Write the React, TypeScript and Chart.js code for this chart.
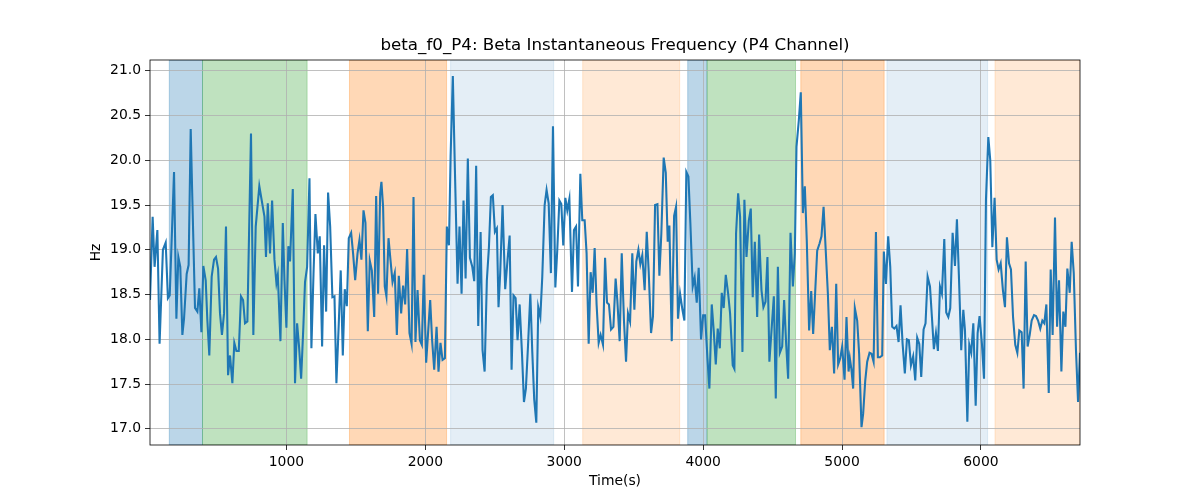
import React, { useEffect, useRef } from 'react';
import { Chart, registerables } from 'chart.js';

Chart.register(...registerables);

// [time (s), frequency (Hz)]
const samples: [number, number][] = [
  [18, 18.44], [37, 19.37], [51, 18.81], [71, 19.22], [87, 17.95], [111, 19.0], [131, 19.08], [147, 18.46], [160, 18.49],
  [191, 19.87], [208, 18.23], [222, 18.92], [236, 18.81], [251, 18.05], [263, 18.23], [282, 18.73], [296, 18.83],
  [311, 20.35], [323, 19.56], [342, 18.35], [359, 18.31], [373, 18.57], [388, 18.08], [402, 18.82], [419, 18.66],
  [431, 18.21], [445, 17.82], [462, 18.7], [479, 18.89], [493, 18.92], [508, 18.79], [522, 18.29], [536, 18.05],
  [551, 18.29], [565, 19.26], [580, 17.6], [594, 17.82], [611, 17.51], [625, 17.96], [640, 17.87], [657, 17.87],
  [673, 18.48], [688, 18.44], [702, 18.18], [719, 18.2], [745, 20.3], [762, 18.05], [779, 19.26], [805, 19.71],
  [842, 19.37], [853, 18.92], [866, 19.52], [882, 18.96], [897, 19.55], [914, 18.89], [928, 18.63], [938, 18.72],
  [957, 17.98], [974, 19.3], [986, 18.66], [1000, 18.13], [1014, 19.04], [1026, 18.87], [1046, 19.68], [1062, 17.51],
  [1077, 18.18], [1091, 17.92], [1106, 17.56], [1122, 18.14], [1134, 18.64], [1149, 18.81], [1166, 19.8], [1180, 17.9],
  [1195, 18.73], [1209, 19.4], [1226, 18.96], [1240, 19.15], [1257, 17.92], [1271, 19.05], [1286, 18.31], [1300, 19.64],
  [1315, 19.26], [1331, 18.47], [1346, 18.48], [1360, 17.51], [1377, 18.18], [1391, 18.77], [1406, 17.82], [1420, 18.56],
  [1435, 18.37], [1449, 19.13], [1466, 19.19], [1480, 18.96], [1495, 18.66], [1512, 18.96], [1526, 19.11], [1540, 18.89],
  [1555, 19.44], [1569, 19.3], [1586, 18.09], [1600, 18.88], [1615, 18.77], [1632, 18.25], [1646, 19.6], [1660, 18.51],
  [1675, 19.63],
  [1684, 19.76], [1696, 19.48], [1708, 18.59], [1720, 18.48], [1735, 19.13], [1749, 18.89], [1764, 18.64], [1780, 18.74],
  [1795, 18.05], [1809, 18.71], [1826, 18.29], [1840, 18.6], [1855, 18.39], [1869, 19.01], [1886, 18.07], [1901, 17.95],
  [1915, 19.59], [1929, 17.97], [1944, 18.55], [1961, 17.99], [1975, 17.94], [1989, 18.72], [2006, 17.74], [2021, 18.1],
  [2035, 18.44], [2049, 17.99], [2064, 17.66], [2081, 18.14], [2095, 17.64], [2109, 17.96], [2124, 17.77], [2141, 17.79],
  [2155, 19.26], [2170, 19.05], [2182, 20.04], [2198, 20.94], [2213, 19.89], [2232, 18.62], [2246, 19.26], [2261, 18.51],
  [2275, 19.55], [2290, 18.68], [2306, 20.02], [2321, 18.91], [2338, 18.81], [2352, 18.65], [2366, 19.94], [2381, 18.15],
  [2398, 19.2], [2412, 17.88], [2427, 17.64], [2443, 18.66], [2458, 19.03], [2472, 19.59], [2486, 19.61], [2501, 19.2],
  [2515, 19.24],
  [2527, 18.36], [2539, 18.74], [2556, 19.5], [2575, 18.56], [2592, 18.89], [2607, 19.16], [2621, 17.66], [2635, 18.49],
  [2650, 18.46], [2664, 17.99], [2679, 18.39], [2696, 17.84], [2710, 17.3], [2724, 17.45], [2739, 17.92], [2756, 18.51],
  [2770, 17.86], [2784, 17.33], [2799, 17.07], [2813, 18.36], [2828, 18.25], [2842, 18.7], [2859, 19.5], [2873, 19.67],
  [2888, 19.52], [2904, 18.74], [2919, 20.38], [2936, 18.58], [2950, 19.0], [2965, 19.55], [2979, 19.51], [2993, 19.05],
  [3008, 19.58], [3022, 19.44], [3037, 19.57], [3056, 18.53], [3070, 19.22], [3085, 19.26], [3099, 18.59], [3116, 19.85],
  [3130, 19.33], [3147, 19.33], [3161, 18.96], [3176, 17.95], [3190, 18.75], [3205, 18.52], [3219, 19.02], [3233, 18.39],
  [3248, 17.96], [3262, 18.05], [3279, 17.94], [3294, 18.91], [3308, 18.41], [3322, 18.39], [3337, 18.11], [3354, 18.14],
  [3370, 18.68], [3382, 18.44], [3399, 17.98], [3414, 18.96], [3430, 18.21], [3445, 17.75], [3459, 18.29], [3474, 18.2],
  [3490, 18.96], [3505, 18.33], [3519, 18.87], [3534, 19.0], [3548, 18.84], [3562, 18.94], [3579, 18.55], [3594, 19.2],
  [3608, 18.76], [3625, 18.07], [3639, 18.26], [3654, 19.5], [3671, 19.51], [3685, 18.71], [3699, 19.18], [3716, 20.03],
  [3731, 19.86], [3745, 19.09], [3757, 19.27], [3774, 17.98], [3791, 19.38], [3805, 19.48], [3819, 18.23], [3834, 18.51],
  [3851, 18.33], [3865, 18.21], [3879, 19.87], [3894, 19.82], [3908, 19.3], [3925, 18.59], [3939, 18.69], [3954, 18.41],
  [3968, 18.8], [3985, 18.0], [4000, 18.27], [4014, 18.27], [4031, 17.79], [4045, 17.45], [4062, 18.39], [4076, 18.1],
  [4091, 17.72], [4105, 18.12], [4120, 17.9], [4134, 18.52], [4148, 18.35], [4163, 18.72], [4180, 18.51], [4194, 18.29],
  [4213, 17.71], [4225, 17.67], [4237, 19.18], [4252, 19.63], [4266, 19.37], [4283, 17.86], [4297, 19.56], [4312, 18.92],
  [4329, 19.33], [4343, 19.46], [4357, 18.47], [4372, 19.09], [4389, 18.25], [4403, 19.17], [4420, 18.55], [4434, 18.36],
  [4449, 18.42], [4463, 18.92], [4477, 17.75], [4494, 18.14], [4509, 18.48], [4523, 17.34], [4538, 18.81], [4552, 17.85],
  [4569, 17.92], [4583, 18.44], [4598, 17.94], [4612, 17.56], [4629, 19.19], [4646, 18.59], [4660, 18.96], [4672, 20.15],
  [4689, 20.45], [4703, 20.76], [4718, 19.41], [4732, 19.71], [4746, 19.11], [4763, 18.1], [4778, 18.54], [4792, 18.06],
  [4806, 18.51], [4821, 18.99], [4838, 19.07], [4852, 19.15], [4867, 19.48], [4881, 19.04], [4898, 18.51], [4912, 17.88],
  [4927, 18.14], [4943, 17.62], [4958, 18.62], [4972, 17.72], [4987, 17.79], [5001, 17.92], [5018, 17.55], [5032, 18.25],
  [5047, 17.64],
  [5056, 17.79], [5068, 17.66], [5080, 17.45], [5092, 18.35], [5109, 18.21], [5123, 17.84], [5140, 17.02], [5152, 17.17],
  [5167, 17.54], [5181, 17.75], [5198, 17.85], [5212, 17.84], [5227, 17.75], [5244, 19.2], [5258, 17.8], [5272, 17.8],
  [5289, 17.82], [5301, 18.98], [5316, 18.62], [5332, 19.15], [5347, 18.81], [5361, 18.14], [5376, 18.12], [5392, 18.15],
  [5407, 17.97], [5421, 18.38], [5436, 17.95], [5452, 17.62], [5467, 18.0], [5481, 17.99], [5496, 17.71], [5512, 17.81],
  [5527, 17.54], [5541, 18.02], [5556, 17.95], [5570, 17.58], [5587, 18.11], [5601, 18.18], [5616, 18.7], [5633, 18.59],
  [5647, 18.25], [5661, 17.89], [5676, 18.07], [5690, 17.87], [5705, 18.59], [5719, 18.51], [5736, 19.12], [5750, 18.3],
  [5765, 18.25], [5779, 18.35], [5796, 19.19], [5813, 18.82], [5827, 19.34], [5841, 18.72], [5858, 17.88], [5873, 18.33],
  [5885, 18.1], [5902, 17.08], [5916, 17.94], [5930, 17.85], [5945, 18.18], [5962, 17.26], [5976, 18.07], [5990, 18.26],
  [6007, 17.95], [6022, 17.56], [6036, 19.56], [6053, 20.26], [6067, 20.0], [6082, 19.03], [6098, 19.58], [6113, 18.89],
  [6127, 18.78], [6142, 18.85], [6158, 18.55], [6173, 18.36], [6187, 19.14], [6202, 18.85], [6216, 18.78], [6231, 18.25],
  [6247, 17.94], [6262, 17.85], [6276, 18.1], [6293, 18.08], [6307, 17.45], [6322, 18.87], [6336, 17.92], [6351, 18.05],
  [6365, 18.21], [6382, 18.27], [6396, 18.26], [6411, 18.21], [6427, 18.12], [6442, 18.21], [6456, 18.18], [6471, 18.39],
  [6488, 17.4], [6502, 18.78], [6516, 18.05], [6533, 19.36], [6548, 18.14], [6562, 18.66], [6579, 17.64], [6593, 18.31],
  [6608, 18.14], [6622, 18.79], [6639, 18.52], [6653, 19.09], [6668, 18.74], [6684, 17.88], [6699, 17.3], [6713, 17.85],
];

// Shaded epochs
const spanStart = [157, 396, 1454, 2182, 3133, 3889, 4028, 4703, 5323, 6101];
const spanEnd = [396, 1149, 2153, 2924, 3831, 4028, 4665, 5303, 6048, 6713];
const spanKind = ['blue', 'green', 'orange', 'paleBlue', 'paleOrange', 'blue', 'green', 'orange', 'paleBlue', 'paleOrange'];

const xTicks = [1000, 2000, 3000, 4000, 5000, 6000];
const yTicks = [17.0, 17.5, 18.0, 18.5, 19.0, 19.5, 20.0, 20.5, 21.0];

const X_MIN = 18;
const X_MAX = 6713;
const Y_MIN = 16.82;
const Y_MAX = 21.12;

const TITLE = 'beta_f0_P4: Beta Instantaneous Frequency (P4 Channel)';
const X_LABEL = 'Time(s)';
const Y_LABEL = 'Hz';

const spanColors: Record<string, string> = {
  blue: 'rgba(31,119,180,0.3)',
  green: 'rgba(44,160,44,0.3)',
  orange: 'rgba(255,127,14,0.3)',
  paleBlue: 'rgba(31,119,180,0.12)',
  paleOrange: 'rgba(255,127,14,0.17)',
};

const FONT = "'DejaVu Sans', 'Liberation Sans', sans-serif";

const decorPlugin = {
  id: 'decor',
  beforeDraw(chart: any) {
    const { ctx, chartArea, scales } = chart;
    const xs = scales.x;
    ctx.save();
    ctx.beginPath();
    ctx.rect(chartArea.left, chartArea.top, chartArea.right - chartArea.left, chartArea.bottom - chartArea.top);
    ctx.clip();
    for (let i = 0; i < spanStart.length; i++) {
      const x0 = xs.getPixelForValue(spanStart[i]);
      const x1 = xs.getPixelForValue(spanEnd[i]);
      const c = spanColors[spanKind[i]];
      ctx.fillStyle = c;
      ctx.fillRect(x0, chartArea.top, x1 - x0, chartArea.bottom - chartArea.top);
      ctx.strokeStyle = c;
      ctx.lineWidth = 1;
      ctx.strokeRect(x0, chartArea.top, x1 - x0, chartArea.bottom - chartArea.top);
    }
    ctx.restore();
  },
  afterDraw(chart: any) {
    const { ctx, chartArea } = chart;
    ctx.save();
    ctx.strokeStyle = '#000';
    ctx.lineWidth = 0.8;
    ctx.strokeRect(chartArea.left, chartArea.top, chartArea.right - chartArea.left, chartArea.bottom - chartArea.top);
    ctx.fillStyle = '#000';
    ctx.textAlign = 'center';
    ctx.textBaseline = 'middle';
    const cx = (chartArea.left + chartArea.right) / 2;
    ctx.font = `16.7px ${FONT}`;
    ctx.fillText(TITLE, cx, 46);
    ctx.font = `13.9px ${FONT}`;
    ctx.fillText(X_LABEL, cx, 481);
    ctx.translate(96, (chartArea.top + chartArea.bottom) / 2);
    ctx.rotate(-Math.PI / 2);
    ctx.fillText(Y_LABEL, 0, 0);
    ctx.restore();
  },
};

export default function App() {
  const ref = useRef<HTMLCanvasElement | null>(null);

  useEffect(() => {
    if (!ref.current) return;
    const chart = new Chart(ref.current, {
      type: 'line',
      data: {
        datasets: [
          {
            data: samples.map(([t, v]) => ({ x: t, y: v })),
            borderColor: '#1f77b4',
            borderWidth: 2.08,
            pointRadius: 0,
            tension: 0,
            fill: false,
            clip: 0,
          } as any,
        ],
      },
      options: {
        animation: false,
        responsive: false,
        maintainAspectRatio: false,
        devicePixelRatio: 1,
        layout: { padding: { top: 60, right: 120, bottom: 0, left: 0 } },
        plugins: {
          legend: { display: false },
          tooltip: { enabled: false },
          title: { display: false },
        },
        scales: {
          x: {
            type: 'linear',
            min: X_MIN,
            max: X_MAX,
            afterBuildTicks: (scale: any) => {
              scale.ticks = xTicks.map((v) => ({ value: v }));
            },
            afterFit: (scale: any) => {
              scale.height = 55;
            },
            grid: {
              color: '#b0b0b0',
              lineWidth: 0.8,
              drawTicks: true,
              tickLength: 5,
              tickColor: '#000',
              tickWidth: 0.8,
            },
            border: { display: false },
            ticks: {
              color: '#000',
              padding: 4,
              maxRotation: 0,
              autoSkip: false,
              font: { family: FONT, size: 13.9 },
              callback: (v: any) => String(v),
            },
          },
          y: {
            type: 'linear',
            min: Y_MIN,
            max: Y_MAX,
            afterBuildTicks: (scale: any) => {
              scale.ticks = yTicks.map((v) => ({ value: v }));
            },
            afterFit: (scale: any) => {
              scale.width = 150;
            },
            grid: {
              color: '#b0b0b0',
              lineWidth: 0.8,
              drawTicks: true,
              tickLength: 5,
              tickColor: '#000',
              tickWidth: 0.8,
            },
            border: { display: false },
            ticks: {
              color: '#000',
              padding: 4,
              autoSkip: false,
              font: { family: FONT, size: 13.9 },
              callback: (v: any) => Number(v).toFixed(1),
            },
          },
        },
      } as any,
      plugins: [decorPlugin],
    });
    return () => chart.destroy();
  }, []);

  return (
    <div style={{ position: 'absolute', left: 0, top: 0, width: 1200, height: 500, background: '#fff' }}>
      <canvas ref={ref} width={1200} height={500} style={{ display: 'block', width: 1200, height: 500 }} />
    </div>
  );
}
